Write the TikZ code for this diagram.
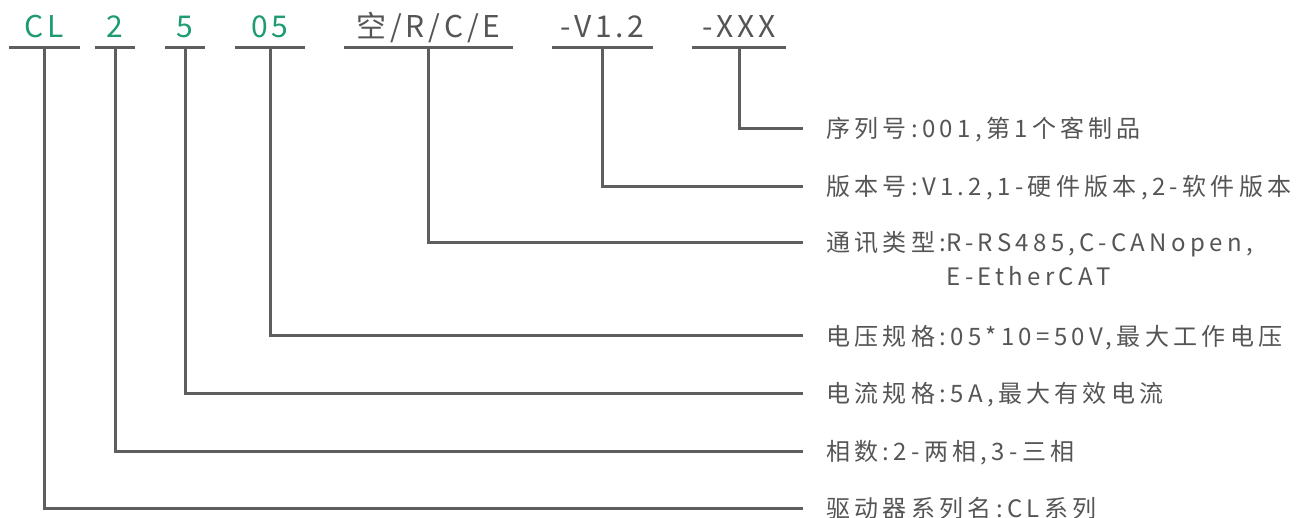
\documentclass[tikz,border=0pt]{standalone}
\usepackage{fontspec}
\setmainfont{Noto Sans CJK SC}[LetterSpace=18]
\newfontfamily\codefont{Noto Sans CJK SC}[LetterSpace=13]
\definecolor{codegreen}{HTML}{1F9B73}
\definecolor{linegray}{HTML}{5E5E5E}
\definecolor{textgray}{HTML}{555555}
\begin{document}
\begin{tikzpicture}[x=1pt,y=-1pt,
  code/.style={font=\codefont\fontsize{30}{30}\selectfont, inner sep=0pt, text height=22pt, text depth=0pt, minimum height=41pt},
  green/.style={text=codegreen},
  gray/.style={text=textgray},
  lbl/.style={font=\fontsize{24}{24}\selectfont, text=textgray, inner sep=0pt, anchor=base west},
  conn/.style={draw=linegray, line width=3pt}]
\useasboundingbox (0,0) rectangle (1298,518);
% codes
\node[code,green,minimum width=71pt] (cl) at (44.5,27) {CL};
\node[code,green,minimum width=40pt] (ph) at (115,27) {2};
\node[code,green,minimum width=40pt] (cu) at (185,27) {5};
\node[code,green,minimum width=70pt] (vo) at (270,27) {05};
\node[code,gray,minimum width=169pt] (co) at (428.5,27) {空/R/C/E};
\node[code,gray,minimum width=101pt] (ve) at (602.5,27) {-V1.2};
\node[code,gray,minimum width=94pt] (se) at (739,27) {-XXX};
\foreach \n in {cl,ph,cu,vo,co,ve,se}
  \draw[conn] (\n.south west) -- (\n.south east);
% label endpoints
\coordinate (ese) at (803,129);
\coordinate (eve) at (803,187);
\coordinate (eco) at (803,243);
\coordinate (evo) at (803,336);
\coordinate (ecu) at (803,393);
\coordinate (eph) at (803,451);
\coordinate (ecl) at (803,508);
% labels
\node[lbl] (lse) at (826,138) {序列号:001,第1个客制品};
\node[lbl] (lve) at (826,196) {版本号:V1.2,1-硬件版本,2-软件版本};
\node[lbl] (lco) at (826,252) {通讯类型:};
\node[lbl] (lcoa) at (lco.base east) {R-RS485,C-CANopen,};
\node[lbl] (lcob) at ([yshift=-34pt]lcoa.base west) {E-EtherCAT};
\node[lbl] (lvo) at (826,345) {电压规格:05*10=50V,最大工作电压};
\node[lbl] (lcu) at (826,402) {电流规格:5A,最大有效电流};
\node[lbl] (lph) at (826,460) {相数:2-两相,3-三相};
\node[lbl] (lcl) at (826,517) {驱动器系列名:CL系列};
% connectors
\draw[conn] (se.south) |- (ese);
\draw[conn] (ve.south) |- (eve);
\draw[conn] (co.south) |- (eco);
\draw[conn] (vo.south) |- (evo);
\draw[conn] (cu.south) |- (ecu);
\draw[conn] (ph.south) |- (eph);
\draw[conn] (cl.south) |- (ecl);
\end{tikzpicture}
\end{document}
